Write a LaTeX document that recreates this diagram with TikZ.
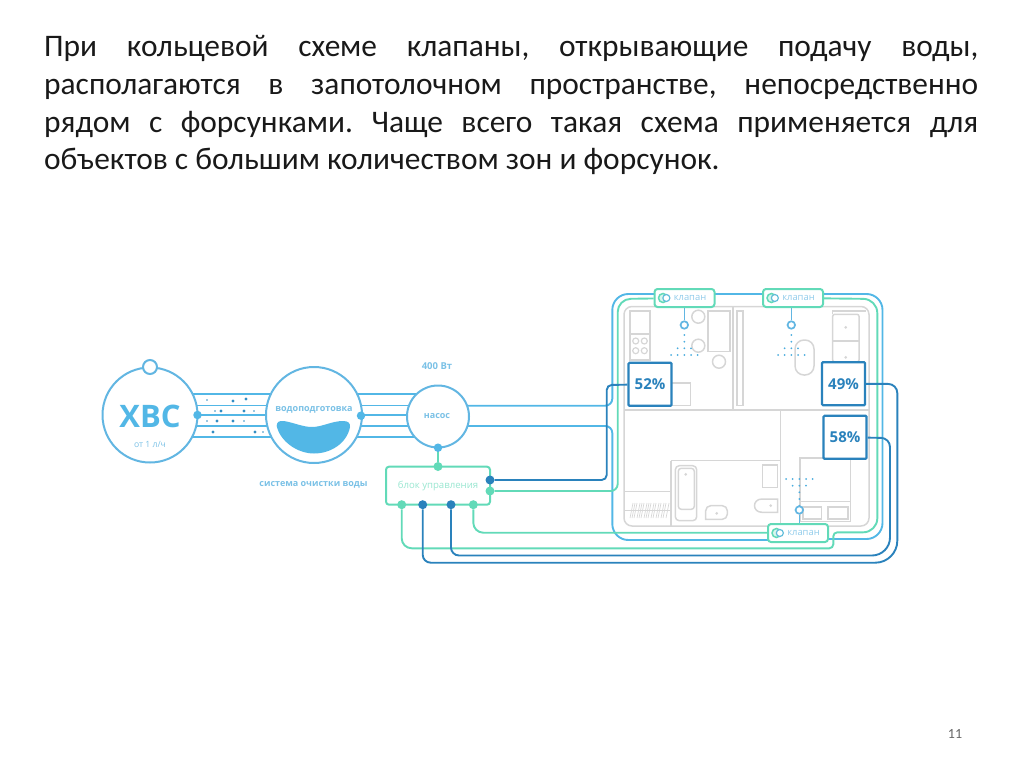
\documentclass[tikz,border=0pt]{standalone}
\usepackage{fontspec}
\setmainfont{Carlito}
\newfontfamily\labelfont{Open Sans}
\usetikzlibrary{shapes.misc,positioning,backgrounds,calc}

\definecolor{pipeblue}{HTML}{52B7E6}
\definecolor{ringblue}{HTML}{62B6E2}
\definecolor{darkblue}{HTML}{2A82BC}
\definecolor{ctrlgreen}{HTML}{62DAB8}
\definecolor{wallgray}{HTML}{D6D6D6}

\begin{document}
\begin{tikzpicture}[
  x=1pt, y=-1pt,
  textline/.style={anchor=base west, inner sep=0pt, font=\fontsize{31.4}{36}\selectfont\frenchspacing, text=black!90},
  vessel/.style={circle, draw=ringblue, line width=2pt, fill=white, inner sep=0pt},
  tag/.style={font=\labelfont\bfseries\fontsize{9}{10}\selectfont, text=ringblue!85, inner sep=0pt},
  percent/.style={rectangle, draw=darkblue, line width=2.2pt, fill=white, rounded corners=1pt, minimum width=43pt, minimum height=43pt, inner sep=0pt, font=\labelfont\bfseries\fontsize{15}{17}\selectfont, text=darkblue},
  valve/.style={rectangle, draw=ctrlgreen, line width=2pt, fill=white, rounded corners=3pt, minimum width=60pt, minimum height=18pt, inner sep=0pt, font=\labelfont\fontsize{9.4}{10}\selectfont, text=ringblue!70, text height=5pt, text depth=0pt},
  head/.style={circle, draw=ringblue, line width=1.7pt, fill=white, minimum size=7.5pt, inner sep=0pt},
  gdot/.style={circle, fill=ctrlgreen, minimum size=9pt, inner sep=0pt},
  bdot/.style={circle, fill=darkblue, minimum size=9pt, inner sep=0pt},
  pdot/.style={circle, fill=pipeblue, minimum size=8.5pt, inner sep=0pt},
  pipe/.style={draw=pipeblue, line width=1.9pt},
  ctrl/.style={draw=ctrlgreen, line width=1.9pt},
  sig/.style={draw=darkblue, line width=1.9pt},
  wall/.style={draw=wallgray, line width=1.5pt},
]
\useasboundingbox (0,0) rectangle (1024,767);

% === Paragraph ===
\node[textline] (lineA) at (44,56.7) {\makebox[934pt][s]{При кольцевой схеме клапаны, открывающие подачу воды,}};
\node[textline] (lineB) at (44,94.3) {\makebox[934pt][s]{располагаются в запотолочном пространстве, непосредственно}};
\node[textline] (lineC) at (44,132.2) {\makebox[934pt][s]{рядом с форсунками. Чаще всего такая схема применяется для}};
\node[textline] (lineD) at (44,170) {объектов с большим количеством зон и форсунок.};
\node[inner sep=0pt, text=black!60, font=\fontsize{14}{16}\selectfont] (pageno) at (955,734) {11};

% === Water line ===
\node[vessel, minimum size=95pt] (hvs) at (150,415) {};
\node[vessel, minimum size=14pt] (inlet) at (150,367) {};
\node[vessel, minimum size=96pt] (filter) at (314,415) {};
\node[vessel, minimum size=62pt] (pump) at (438,416.5) {};
\node[font=\labelfont\bfseries\fontsize{31}{32}\selectfont, text=pipeblue, inner sep=0pt] (hvstext) at (150,416.5) {ХВС};
\node[tag, font=\labelfont\fontsize{8.6}{10}\selectfont, below=13pt of hvstext] (hvsrate) {от 1 л/ч};
\node[tag] (filtertext) at (314,410) {водоподготовка};
\node[tag] (pumptext) at (437,416) {насос};
\node[tag, font=\labelfont\bfseries\fontsize{9.5}{10}\selectfont] (power) at (437,366) {400 Вт};
\node[tag] (system) at (313.5,485) {система очистки воды};
\node[pdot] (dotA) at (197.5,415) {};
\node[pdot] (dotB) at (361,415.7) {};
\node[pdot] (dotC) at (438,447.7) {};

% water in the filter
\fill[pipeblue] (276.7,426) .. controls (276.7,422) and (279,420.5) .. (284,421) .. controls (295,423) and (303,427) .. (312,427) .. controls (322,427) and (332,421) .. (343,421) .. controls (348,421) and (350.5,423) .. (350,427) .. controls (347,443) and (331,453.5) .. (314,453.5) .. controls (297,453.5) and (280,441) .. (276.7,426) -- cycle;

% === Control block ===
\node[rectangle, draw=ctrlgreen, line width=2pt, fill=white, rounded corners=3pt, minimum width=104pt, minimum height=38pt, inner sep=0pt, font=\labelfont\fontsize{9.6}{10}\selectfont, text=ctrlgreen!65] (block) at (438,485.7) {блок управления};
\node[gdot] (blockT) at (438,466.5) {};
\node[bdot] (blockRa) at (490,480) {};
\node[gdot] (blockRb) at (490,491) {};
\node[gdot] (blockBa) at (401.7,504.7) {};
\node[bdot] (blockBb) at (422.7,504.7) {};
\node[bdot] (blockBc) at (451,504.7) {};
\node[gdot] (blockBd) at (473.3,504.7) {};

% === Valves and sensors ===
\foreach \name/\x/\y in {valveA/684.5/298, valveB/793/298, valveC/798/533}
  \node[valve] (\name) at (\x,\y) {\hspace{11pt}клапан};
\foreach \name/\x/\y in {valveA/663/298, valveB/771.5/298, valveC/776.5/533} {
  \node[circle, draw=ctrlgreen, line width=1.5pt, fill=ctrlgreen!25, minimum size=9pt, inner sep=0pt] (\name ring) at (\x,\y) {};
  \node[circle, draw=ringblue!80!ctrlgreen, line width=1.2pt, fill=white, minimum size=7pt, inner sep=0pt, right=-6pt of \name ring] (\name eye) {};
}
\node[head] (headA) at (684.3,325) {};
\node[head] (headB) at (791.3,325) {};
\node[head] (headC) at (799.3,510) {};
\node[percent] (boxA) at (650,384.3) {52\%};
\node[percent] (boxB) at (843.5,383.7) {49\%};
\node[percent] (boxC) at (845,437.3) {58\%};

\begin{scope}[on background layer]
% === Floor plan ===
\draw[wall, rounded corners=8pt] (624,306.5) rectangle (869,526);
\draw[wall] (624,410) -- (869,410);
\draw[wall] (733,306.5) -- (733,410);
\draw[wall] (780.7,410) -- (780.7,526);
\draw[wall] (671,460.7) -- (780.7,460.7);
\draw[wall] (671,460.7) -- (671,526);
\draw[wall] (624,491.5) -- (671,491.5);
\draw[wall, line width=1pt] (624,510) -- (671,510);
\foreach \x in {630,632,634,637,639,641,644,646,648,651,653,656,658,661,663,666}
  \draw[wall, line width=.7pt] (\x,518) -- (\x+3,503);
% kitchen
\draw[wall] (630,311) rectangle (650,360);
\draw[wall] (630,334) -- (650,334);
\foreach \x/\y in {635.7/341, 644.3/341, 635.7/350.7, 644.3/350.7}
  \draw[wall, line width=1.2pt] (\x,\y) circle[radius=3];
\foreach \x/\y in {698.3/316.7, 698.3/345.7, 719/361.7}
  \draw[wall] (\x,\y) circle[radius=6.5];
\draw[wall] (708,311) rectangle (730,351.7);
\draw[wall] (671,383) rectangle (690.7,405.7);
\draw[wall] (737,311) rectangle (743,405.7);
% upper bath
\draw[wall, rounded corners=9pt] (795,340) rectangle (814,375);
\draw[wall, rounded corners=2pt] (832.7,314.3) rectangle (859,362);
\draw[wall] (832.7,341) -- (859,341);
\draw[wall] (832.7,314) -- (832.7,311) -- (866,311);
\foreach \x/\y in {845.7/327.3, 845.7/357.3, 685.7/474.3, 716.7/513.3, 770.7/505.7}
  \fill[wallgray] (\x,\y) circle[radius=1.5];
% lower bath
\draw[wall, rounded corners=4pt] (675.3,465.7) rectangle (696.7,520.7);
\draw[wall, rounded corners=3pt] (678.3,468.3) rectangle (694.3,509.3);
\draw[wall, rounded corners=5pt] (705.7,519.3) -- (705.7,505.7) -- (727.3,505.7) -- (727.3,519.3) [sharp corners] -- cycle;
\draw[wall] (762.7,465) rectangle (777.7,487.3);
\draw[wall] (777.7,499) -- (762,499) .. controls (752,499) and (752,512.3) .. (762,512.3) -- (777.7,512.3) -- cycle;
% bedroom
\draw[wall] (800,458) rectangle (850.7,521.7);
\draw[wall] (800,501.7) -- (850.7,501.7);
\draw[wall] (803,507) rectangle (821.7,519);
\draw[wall] (828,507) rectangle (848,519);

% === Water pipes ===
\foreach \dy in {-21,-9.5,0,10.7,22} {
  \draw[pipe] ($(hvs.center)+(0,\dy)$) -- ($(pump.center)+(0,\dy-1.5)$);
}
\coordinate (pumpTop) at (pump.center |- 0,405.7);
\coordinate (pumpLow) at (pump.center |- 0,426);
\coordinate (valveCin) at (790,540);
\coordinate (valveCout) at (815,539);
\draw[pipe, rounded corners=7pt] (pumpTop) -- (612.3,405.7) [rounded corners=16pt] -- (612.3,294) -- (882.5,294) -- (882.5,539) [rounded corners=0pt] -- (valveCout);
\draw[pipe, rounded corners=7pt] (pumpLow) -- (612.3,426) [rounded corners=16pt] -- (612.3,540) -- (valveCin);
\draw[pipe, line width=2.2pt] (dotC) -- (pump);
\draw[ctrl, line width=2.2pt] (dotC) -- (blockT);

% === Control lines ===
\draw[ctrl, rounded corners=7pt] (blockRb) -- (617.7,491) [rounded corners=13pt] -- (617.7,299) -- (valveA);
\draw[ctrl, rounded corners=10pt] (blockBa) -- (401.7,548.3) [rounded corners=4pt] -- (833.3,548.3) -- (833.3,532.3) -- (845,532.3) [rounded corners=14pt] -- (877.3,532.3) -- (877.3,299) -- (valveB);
\draw[ctrl, rounded corners=10pt] (blockBd) -- (473.3,532.7) -- (valveC.west |- 0,532.7);

% === Signal lines ===
\draw[sig, rounded corners=5pt] (blockRa) -- (606.7,480) -- (606.7,385) -- (boxA);
\draw[sig, rounded corners=8pt] (blockBb) -- (422.7,562.7) [rounded corners=22pt] -- (897.3,562.7) [rounded corners=9pt] -- (897.3,384) -- (boxB);
\draw[sig, rounded corners=8pt] (blockBc) -- (451,555.5) [rounded corners=18pt] -- (890,555.5) [rounded corners=9pt] -- (890,438) -- (boxC);

% === Sprinklers ===
\draw[pipe, line width=1.6pt, draw=ringblue] (headA) -- (headA |- valveA);
\draw[pipe, line width=1.6pt, draw=ringblue] (headB) -- (headB |- valveB);
\draw[pipe, line width=1.6pt, draw=ringblue] (headC) -- (headC |- valveC);
\foreach \cx/\cy in {684.3/335, 791.3/335} {
  \foreach \ox/\oy in {0/0, 0/6.7, 0/13.3, 0/20, -6.7/13.3, 6.7/13.3, -6.7/20, 6.7/20, -13.3/20, 13.3/20}
    \fill[pipeblue!80!darkblue] (\cx+\ox,\cy+\oy) circle[radius=1];
}
\foreach \ox/\oy in {0/0, 0/6.7, 0/13.3, 0/20, 0/26.7, -6.7/0, 6.7/0, -13.3/0, 13.3/0, -6.7/6.7, 6.7/6.7}
  \fill[pipeblue!80!darkblue] (799.3+\ox,479+\oy) circle[radius=1];
\end{scope}

% === Particles in the pipes ===
\foreach \x/\y/\r in {207/400/.8, 233/401/1.7, 246/399/1.7, 215/411/.8, 221/411/1.7, 244/411/1.7, 254/411/.8, 207/421/.8, 217/421/1.7, 233/421/1.7, 244/421/.8, 213/432/1.7, 255/432/1.7, 263/432/.8}
  \fill[darkblue!80!pipeblue] (\x,\y) circle[radius=\r];

\end{tikzpicture}
\end{document}
